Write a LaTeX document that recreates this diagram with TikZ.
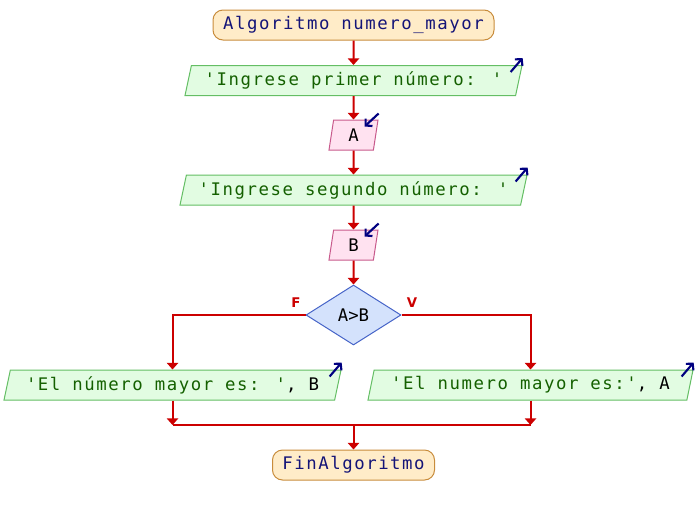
\documentclass[tikz,border=0pt]{standalone}
\usepackage{fontspec}
\newfontfamily\flowfont[LetterSpace=9]{DejaVu Sans Mono}
\newfontfamily\plainmono{DejaVu Sans Mono}
\newfontfamily\branchfont{DejaVu Sans}
\usetikzlibrary{shapes.geometric,arrows.meta,calc}

\definecolor{termfill}{RGB}{255,236,200}
\definecolor{termline}{RGB}{200,140,60}
\definecolor{termtext}{RGB}{20,20,120}
\definecolor{outfill}{RGB}{226,252,226}
\definecolor{outline}{RGB}{100,190,100}
\definecolor{outtext}{RGB}{20,96,0}
\definecolor{infill}{RGB}{255,226,240}
\definecolor{inline}{RGB}{200,90,140}
\definecolor{decfill}{RGB}{212,226,252}
\definecolor{decline}{RGB}{70,100,200}
\definecolor{flowred}{RGB}{204,0,0}
\definecolor{iconblue}{RGB}{0,0,128}

\begin{document}
\begin{tikzpicture}[x=0.75pt,y=-0.75pt,
  flow/.style={font=\flowfont\fontsize{13}{15}\selectfont, inner sep=0pt, line width=0.75pt},
  term/.style={flow, rectangle, rounded corners=7.5pt, draw=termline, fill=termfill,
    text=termtext, minimum height=22.5pt},
  outbox/.style={flow, trapezium, trapezium left angle=70, trapezium right angle=110,
    trapezium stretches body, draw=outline, fill=outfill, text=outtext, minimum height=22.5pt},
  inbox/.style={flow, trapezium, trapezium left angle=70, trapezium right angle=110,
    trapezium stretches body, draw=inline, fill=infill, text=black,
    minimum height=22.5pt, minimum width=36.75pt},
  decbox/.style={flow, font=\plainmono\fontsize{13}{15}\selectfont, diamond, draw=decline,
    fill=decfill, text=black, minimum width=71.25pt, minimum height=45pt},
  link/.style={draw=flowred, line width=1.5pt},
  arrowlink/.style={link, -{Triangle[length=5pt,width=8.5pt]}},
  iconarrow/.style={draw=iconblue, line width=1.6pt, -{Straight Barb[length=3.5pt,width=7.5pt]}},
  branch/.style={font=\branchfont\bfseries\fontsize{10}{11}\selectfont, text=flowred, inner sep=0pt}
]
\useasboundingbox (0,0) rectangle (696,515);

% blocks of the algorithm
\node[term, minimum width=210.75pt] (start) at (353.5,25) {Algoritmo numero\_mayor};
\node[outbox, minimum width=252.75pt] (o1) at (353.5,80.5) {'Ingrese primer número: '};
\node[inbox] (ia) at (353.5,135) {A};
\node[outbox, minimum width=260.25pt] (o2) at (353.5,190) {'Ingrese segundo número: '};
\node[inbox] (ib) at (353.5,245) {B};
\node[decbox] (dec) at (353.5,315) {A>B};
\node[outbox, minimum width=252.75pt] (o3) at (172.5,385)
  {'El número mayor es: '\textcolor{black}{, B}};
\node[outbox, minimum width=243.75pt] (o4) at (530.5,385)
  {'El numero mayor es:'\textcolor{black}{, A}};
\node[term, minimum width=121.5pt] (fin) at (353.5,465) {FinAlgoritmo};

% branch labels
\node[branch] (lf) at (296,303) {F};
\node[branch] (lv) at (412,303) {V};

% sequential flow
\draw[arrowlink] (start.south) -- (o1.north);
\draw[arrowlink] (o1.south) -- (ia.north);
\draw[arrowlink] (ia.south) -- (o2.north);
\draw[arrowlink] (o2.south) -- (ib.north);
\draw[arrowlink] (ib.south) -- (dec.north);

% branches of the decision
\draw[arrowlink] (dec.west) -| (o3.north);
\draw[arrowlink] (dec.east) -| (o4.north);

% merge point
\coordinate (join) at (353.5,425);
\draw[arrowlink] (o3.south) -- (o3.south |- join);
\draw[arrowlink] (o4.south) -- (o4.south |- join);
\draw[link] (o3.south |- join) -- (o4.south |- join);
\draw[arrowlink] (join) -- (fin.north);

% output / input markers
\draw[iconarrow] ($(o1.top right corner)+(-12,7)$) -- ($(o1.top right corner)+(0,-7)$);
\draw[iconarrow] ($(o2.top right corner)+(-12,7)$) -- ($(o2.top right corner)+(0,-7)$);
\draw[iconarrow] ($(o3.top right corner)+(-12,7)$) -- ($(o3.top right corner)+(0,-7)$);
\draw[iconarrow] ($(o4.top right corner)+(-12,7)$) -- ($(o4.top right corner)+(0,-7)$);
\draw[iconarrow] ($(ia.top right corner)+(0,-6)$) -- ($(ia.top right corner)+(-14,7)$);
\draw[iconarrow] ($(ib.top right corner)+(0,-6)$) -- ($(ib.top right corner)+(-14,7)$);
\end{tikzpicture}
\end{document}
